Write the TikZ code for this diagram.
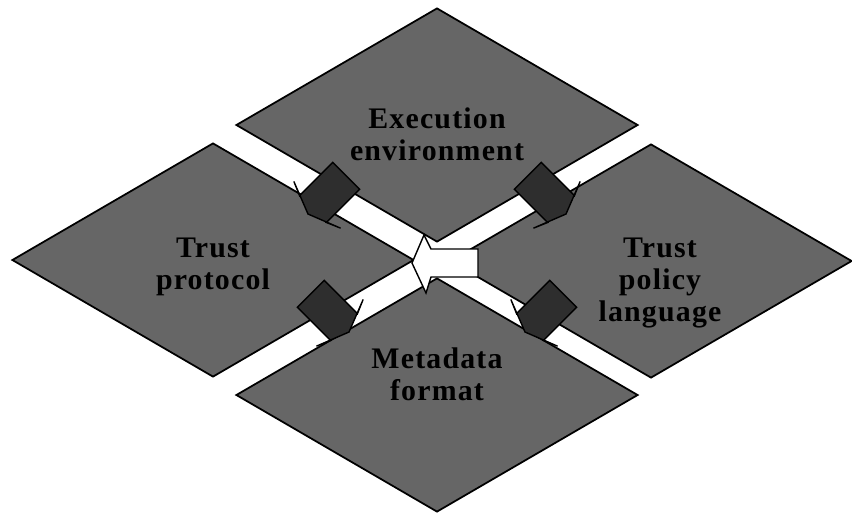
\documentclass[tikz,border=0pt]{standalone}
\usepackage{fontspec}
\setmainfont{Liberation Serif}
\usetikzlibrary{shapes.geometric}

\tikzset{
  quad/.style={diamond,draw=black,line width=1pt,fill=black!60,
               minimum width=8.04cm,minimum height=4.68cm,inner sep=0pt},
  quadtext/.style={align=center,inner sep=0pt,
               font=\bfseries\fontsize{17}{18.2}\selectfont\addfontfeature{LetterSpace=4}},
  darkarrow/.style={draw=black,line width=0.8pt,fill=black!82,line join=miter},
  openarrow/.style={draw=black,line width=0.8pt,fill=white,line join=miter}
}

\begin{document}
\begin{tikzpicture}[x=0.02cm,y=-0.02cm]
  \useasboundingbox (0,0) rectangle (852,512);
  % the four areas
  \node[quad] (exec) at (437,125) {};
  \node[quad] (prot) at (213,260) {};
  \node[quad] (pol)  at (651,261) {};
  \node[quad] (meta) at (437,395) {};

  \node[quadtext] (execT) at (437,134) {Execution\\environment};
  \node[quadtext] (protT) at (213,267) {Trust\\protocol};
  \node[quadtext] (polT)  at (660,283) {Trust\\policy\\language};
  \node[quadtext] (metaT) at (437,374) {Metadata\\format};

  % dark arrows across the gaps
  \foreach \tipx/\tipy/\ang in {308/214/225, 566/214/315, 349/332/315, 525/332/225}
    \draw[darkarrow,shift={(\tipx,\tipy)},rotate=\ang]
      (0,0) -- (-13,33) -- (-7,19) -- (-54,19) -- (-54,-19) -- (-7,-19) -- (-13,-33) -- cycle;

  % open arrow in the middle
  \draw[openarrow] (412,263) -- (424,235) -- (431,249) -- (478,249)
    -- (478,277) -- (431,277) -- (426,293) -- cycle;
\end{tikzpicture}
\end{document}
